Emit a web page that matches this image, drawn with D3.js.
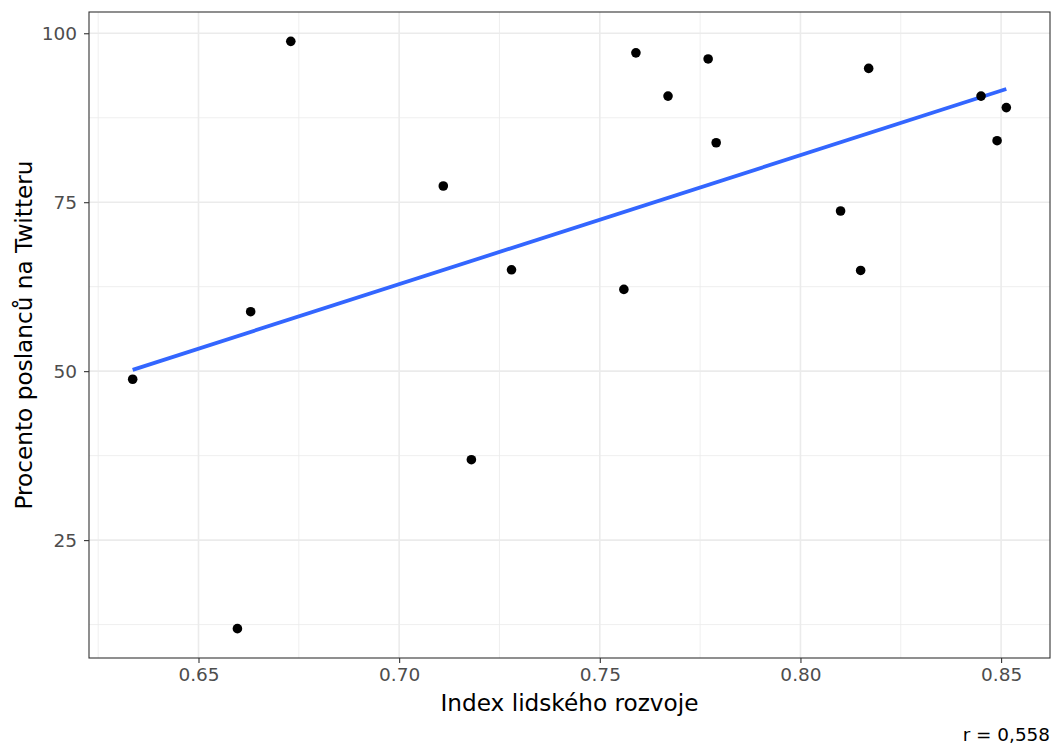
<!DOCTYPE html>
<html><head><meta charset="utf-8">
<script src="https://cdn.jsdelivr.net/npm/d3@7"></script>
<style>body{margin:0;background:#fff}svg{display:block;font-family:"DejaVu Sans",sans-serif}</style>
</head><body><svg id="c" width="1056" height="749"></svg>
<script>
const hdi = [0.6336,0.6597,0.663,0.673,0.711,0.718,0.728,0.756,0.759,0.767,0.777,0.779,0.810,0.815,0.817,0.845,0.849,0.8513];
const twitterPct = [48.8,11.9,58.8,98.8,77.4,36.9,65.0,62.1,97.1,90.7,96.2,83.8,73.7,64.9,94.8,90.7,84.1,89.0];
const xTicks = [0.65,0.70,0.75,0.80,0.85];
const yTicks = [25,50,75,100];
const xMinor = [0.625,0.675,0.725,0.775,0.825];
const yMinor = [12.5,37.5,62.5,87.5];
const xTitle = "Index lidského rozvoje";
const yTitle = "Procento poslanců na Twitteru";
const caption = "r = 0,558";

const svg = d3.select("#c");
const L=89,R=1050,T=12,B=658;
const xr = d3.extent(hdi), yr = d3.extent(twitterPct);
const xe=(xr[1]-xr[0])*0.05, ye=(yr[1]-yr[0])*0.05;
const x = d3.scaleLinear().domain([xr[0]-xe,xr[1]+xe]).range([L,R]);
const y = d3.scaleLinear().domain([yr[0]-ye,yr[1]+ye]).range([B,T]);

const g = svg.append("g");
g.selectAll(".xm").data(xMinor).join("line").attr("x1",d=>x(d)).attr("x2",d=>x(d)).attr("y1",T).attr("y2",B).attr("stroke","#ebebeb").attr("stroke-width",0.8);
g.selectAll(".ym").data(yMinor).join("line").attr("y1",d=>y(d)).attr("y2",d=>y(d)).attr("x1",L).attr("x2",R).attr("stroke","#ebebeb").attr("stroke-width",0.8);
g.selectAll(".xM").data(xTicks).join("line").attr("x1",d=>x(d)).attr("x2",d=>x(d)).attr("y1",T).attr("y2",B).attr("stroke","#ebebeb").attr("stroke-width",1.6);
g.selectAll(".yM").data(yTicks).join("line").attr("y1",d=>y(d)).attr("y2",d=>y(d)).attr("x1",L).attr("x2",R).attr("stroke","#ebebeb").attr("stroke-width",1.6);

// regression
const n=hdi.length, mx=d3.mean(hdi), my=d3.mean(twitterPct);
let sxy=0,sxx=0; for(let i=0;i<n;i++){sxy+=(hdi[i]-mx)*(twitterPct[i]-my);sxx+=(hdi[i]-mx)**2;}
const b=sxy/sxx, a=my-b*mx;
svg.append("line").attr("x1",x(xr[0])).attr("y1",y(a+b*xr[0])).attr("x2",x(xr[1])).attr("y2",y(a+b*xr[1])).attr("stroke","#3366FF").attr("stroke-width",3.8);

svg.selectAll("circle").data(hdi).join("circle").attr("cx",d=>x(d)).attr("cy",(d,i)=>y(twitterPct[i])).attr("r",4.8).attr("fill","#000");

svg.append("rect").attr("x",L).attr("y",T).attr("width",R-L).attr("height",B-T).attr("fill","none").attr("stroke","#333").attr("stroke-width",1.1);

const xa = svg.append("g").attr("transform",`translate(0,${B})`).call(d3.axisBottom(x).tickValues(xTicks).tickFormat(d3.format(".2f")).tickSize(5).tickPadding(5));
const ya = svg.append("g").attr("transform",`translate(${L},0)`).call(d3.axisLeft(y).tickValues(yTicks).tickFormat(d3.format("d")).tickSize(5).tickPadding(7));
[xa,ya].forEach(a=>{a.attr("font-size",null).attr("font-family",null);a.select(".domain").remove();a.selectAll("line").attr("stroke","#333").attr("stroke-width",1.1);a.selectAll("text").attr("fill","#4d4d4d").style("font-size","18.5px");});

svg.append("text").attr("x",(L+R)/2).attr("y",711).attr("text-anchor","middle").style("font-size","23.2px").attr("fill","#000").text(xTitle);
svg.append("text").attr("transform",`translate(32,${(T+B)/2}) rotate(-90)`).attr("text-anchor","middle").style("font-size","23.2px").attr("fill","#000").text(yTitle);
svg.append("text").attr("x",R).attr("y",741).attr("text-anchor","end").style("font-size","18.4px").attr("fill","#000").text(caption);
</script></body></html>
